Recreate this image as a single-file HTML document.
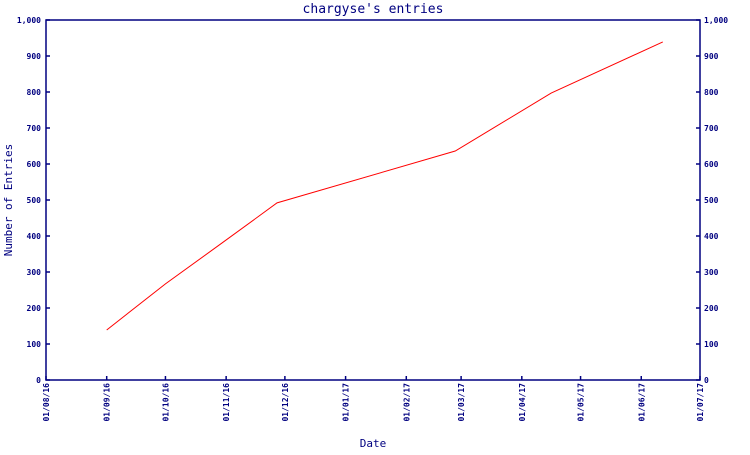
<!DOCTYPE html>
<html><head><meta charset="utf-8"><style>
body{margin:0;background:#fff}
svg text{font-family:"DejaVu Sans Mono","Liberation Mono",monospace;fill:#000080}
</style></head><body>
<svg id="chart" width="750" height="450" xmlns="http://www.w3.org/2000/svg">
<text x="373" y="13" font-size="13" text-anchor="middle">chargyse's entries</text>
<text x="373" y="447" font-size="11" text-anchor="middle">Date</text>
<text transform="translate(12,200) rotate(-90)" font-size="11" text-anchor="middle">Number of Entries</text>
<rect x="46" y="20" width="654" height="360" fill="none" stroke="#000080" stroke-width="1.5"/>
<g id="axes"></g>
<polyline id="line" fill="none" stroke="#ff0000" stroke-width="1"/>
</svg>
<script>
const dates=["2016-09-01","2016-10-01","2016-10-30","2016-11-27","2017-02-26","2017-04-16","2017-06-12"];
const values=[139,267,381,492,636,797,939];
const xTickLabels=["01/08/16","01/09/16","01/10/16","01/11/16","01/12/16","01/01/17","01/02/17","01/03/17","01/04/17","01/05/17","01/06/17","01/07/17"];
const xTickDates=["2016-08-01","2016-09-01","2016-10-01","2016-11-01","2016-12-01","2017-01-01","2017-02-01","2017-03-01","2017-04-01","2017-05-01","2017-06-01","2017-07-01"];
const yTicks=[0,100,200,300,400,500,600,700,800,900,1000];
const yTickLabels=["0","100","200","300","400","500","600","700","800","900","1,000"];
const NS="http://www.w3.org/2000/svg";
const t0=Date.parse("2016-08-01"),t1=Date.parse("2017-07-01");
const X=d=>46+(Date.parse(d)-t0)/(t1-t0)*654;
const Y=v=>380-v/1000*360;
const g=document.getElementById('axes');
function el(tag,attrs,txt){const e=document.createElementNS(NS,tag);for(const k in attrs)e.setAttribute(k,attrs[k]);if(txt!==undefined)e.textContent=txt;g.appendChild(e);return e;}
yTicks.forEach((v,i)=>{
  const y=Y(v);
  let a=el('line',{x1:46,x2:50,y1:y,y2:y,stroke:'#000080','stroke-width':1.5});
  
  
  let b=el('line',{x1:696,x2:700,y1:y,y2:y,stroke:'#000080','stroke-width':1.5});
  
  
  let l=el('text',{x:41,y:y+3,'font-size':8,'text-anchor':'end','font-weight':'bold'},yTickLabels[i]);
  
  
  let r=el('text',{x:704,y:y+3,'font-size':8,'font-weight':'bold'},yTickLabels[i]);
  
  
});
xTickDates.forEach((d,i)=>{
  const x=X(d);
  let t=el('line',{x1:x,x2:x,y1:376,y2:380,stroke:'#000080','stroke-width':1.5});
  
  
  let l=el('text',{transform:`translate(${x+3},383) rotate(-90)`,'font-size':8,'text-anchor':'end','font-weight':'bold'},xTickLabels[i]);
  
  
});
document.getElementById('line').setAttribute('points',dates.map((d,i)=>X(d)+','+Y(values[i])).join(' '));
</script>
</body></html>
